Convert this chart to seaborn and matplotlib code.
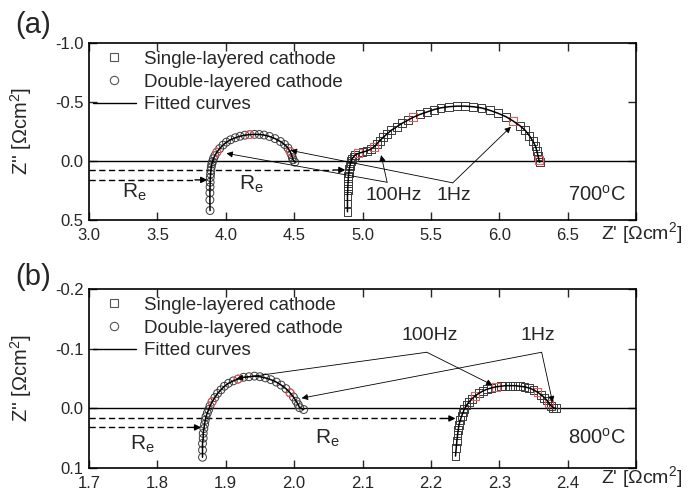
import matplotlib
matplotlib.use("Agg")
import matplotlib.pyplot as plt
from matplotlib.lines import Line2D
import seaborn as sns

# ---------------- 700 °C impedance spectra ----------------
a_single_x = [4.890, 4.890, 4.890, 4.892, 4.893, 4.895, 4.897, 4.900, 4.903, 4.907,
              4.912, 4.918, 4.925, 4.935, 4.945, 4.970, 5.000, 5.030, 5.060, 5.085,
              5.105, 5.125, 5.150, 5.180, 5.210, 5.250, 5.290, 5.330, 5.370, 5.420,
              5.470, 5.520, 5.570, 5.630, 5.690, 5.750, 5.810, 5.870, 5.930, 5.990,
              6.050, 6.100, 6.150, 6.190, 6.220, 6.245, 6.265, 6.275, 6.283, 6.290, 6.295]
a_single_y = [0.43, 0.36, 0.30, 0.25, 0.21, 0.17, 0.13, 0.10, 0.07, 0.045,
              0.02, 0.0, -0.02, -0.035, -0.05, -0.065, -0.075, -0.085, -0.10, -0.12,
              -0.145, -0.17, -0.20, -0.23, -0.26, -0.29, -0.32, -0.345, -0.37, -0.395,
              -0.415, -0.435, -0.45, -0.46, -0.465, -0.465, -0.46, -0.45, -0.43, -0.405,
              -0.375, -0.34, -0.30, -0.26, -0.215, -0.17, -0.125, -0.085, -0.045, -0.01, 0.01]
a_single_red = [15, 19, 28, 41, 49]

a_double_x = [3.885, 3.884, 3.884, 3.885, 3.886, 3.887, 3.889, 3.891, 3.894, 3.898,
              3.903, 3.910, 3.920, 3.935, 3.955, 3.980, 4.005, 4.035, 4.070, 4.105,
              4.140, 4.175, 4.210, 4.245, 4.280, 4.320, 4.360, 4.400, 4.430, 4.455,
              4.470, 4.480, 4.487, 4.492, 4.505]
a_double_y = [0.42, 0.33, 0.27, 0.22, 0.18, 0.14, 0.11, 0.08, 0.05, 0.025,
              0.005, -0.02, -0.045, -0.075, -0.105, -0.135, -0.16, -0.18, -0.197, -0.21,
              -0.219, -0.224, -0.226, -0.225, -0.22, -0.208, -0.19, -0.165, -0.14, -0.11,
              -0.08, -0.055, -0.03, -0.01, 0.01]
a_double_red = [13, 21, 30]

# ---------------- 800 °C impedance spectra ----------------
b_single_x = [2.236, 2.237, 2.238, 2.239, 2.240, 2.241, 2.243, 2.245, 2.247, 2.249,
              2.252, 2.256, 2.260, 2.265, 2.270, 2.276, 2.282, 2.288, 2.295, 2.302,
              2.309, 2.316, 2.323, 2.330, 2.337, 2.344, 2.350, 2.356, 2.361, 2.366,
              2.370, 2.373, 2.376, 2.379, 2.383]
b_single_y = [0.080, 0.067, 0.055, 0.045, 0.036, 0.028, 0.020, 0.013, 0.007, 0.001,
              -0.005, -0.011, -0.016, -0.021, -0.025, -0.029, -0.032, -0.034, -0.036, -0.037,
              -0.038, -0.038, -0.038, -0.037, -0.036, -0.034, -0.031, -0.027, -0.023, -0.018,
              -0.013, -0.008, -0.004, -0.001, 0.000]
b_single_red = [13, 18, 27, 31]

b_double_x = [1.866, 1.866, 1.866, 1.867, 1.867, 1.868, 1.869, 1.870, 1.871, 1.873,
              1.875, 1.877, 1.880, 1.884, 1.888, 1.893, 1.898, 1.904, 1.911, 1.918,
              1.926, 1.934, 1.942, 1.950, 1.958, 1.966, 1.974, 1.981, 1.988, 1.994,
              1.999, 2.003, 2.006, 2.008, 2.014]
b_double_y = [0.082, 0.070, 0.059, 0.050, 0.042, 0.034, 0.027, 0.020, 0.014, 0.008,
              0.002, -0.004, -0.011, -0.018, -0.025, -0.031, -0.037, -0.042, -0.046, -0.049,
              -0.052, -0.053, -0.054, -0.053, -0.051, -0.048, -0.044, -0.039, -0.033, -0.026,
              -0.019, -0.012, -0.006, -0.001, 0.002]
b_double_red = [12, 19, 29]

a_xticks = [3.0, 3.5, 4.0, 4.5, 5.0, 5.5, 6.0, 6.5, 7.0]
a_yticks = [-1.0, -0.5, 0.0, 0.5]
b_xticks = [1.7, 1.8, 1.9, 2.0, 2.1, 2.2, 2.3, 2.4, 2.5]
b_yticks = [-0.2, -0.1, 0.0, 0.1]

legend_labels = ["Single-layered cathode", "Double-layered cathode", "Fitted curves"]

# ---------------- styling ----------------
sns.set_style("ticks")
plt.rcParams.update({
    "font.family": ["Liberation Sans", "DejaVu Sans"],
    "mathtext.fontset": "custom",
    "mathtext.rm": "Liberation Sans",
    "mathtext.it": "Liberation Sans:italic",
    "axes.unicode_minus": False,
    "axes.linewidth": 1.2,
    "axes.edgecolor": "black",
})

TXT = 14
MARK_EDGE = "#3a3a3a"
RED_EDGE = "#f05a5a"
ARROW = dict(arrowstyle="-|>", color="black", lw=0.6, mutation_scale=9,
             shrinkA=0, shrinkB=0)
RE_ARROW = dict(arrowstyle="-|>", color="black", lw=1.0, mutation_scale=9,
                shrinkA=0, shrinkB=0)


def draw_series(ax, xs, ys, red, marker, size):
    sns.lineplot(x=xs, y=ys, sort=False, estimator=None, color="black",
                 lw=1.1, ax=ax, zorder=4)
    sns.scatterplot(x=xs, y=ys, marker=marker, s=size, color=MARK_EDGE,
                    facecolor="none", edgecolor=MARK_EDGE, linewidth=0.7,
                    ax=ax, zorder=3)
    sns.scatterplot(x=[xs[i] for i in red], y=[ys[i] for i in red],
                    marker=marker, s=size, color=RED_EDGE, facecolor="none",
                    edgecolor=RED_EDGE, linewidth=0.8, ax=ax, zorder=3.5)


def re_line(ax, x0, x_end, y, head):
    ax.plot([x0, x_end - head], [y, y], color="black", lw=1.0,
            ls=(0, (4.5, 2.5)), zorder=2)
    ax.annotate("", xy=(x_end, y), xytext=(x_end - head, y), arrowprops=RE_ARROW,
                zorder=5)


def freq_label(ax, text, text_xy, apex, targets):
    ax.text(text_xy[0], text_xy[1], text, ha="center", va="center", fontsize=TXT)
    for t in targets:
        ax.annotate("", xy=t, xytext=apex, arrowprops=ARROW, zorder=5)


def setup_axes(ax, xticks, yticks, ylim, xlabel_y):
    ax.set_xlim(xticks[0], xticks[-1])
    ax.set_ylim(ylim[1], ylim[0])
    ax.set_xticks(xticks)
    ax.set_xticklabels([f"{v:.1f}" for v in xticks[:-1]] + [""])
    ax.set_yticks(yticks)
    ax.set_yticklabels([f"{v:.1f}" for v in yticks])
    ax.tick_params(direction="in", top=True, right=True, length=6, width=1.0,
                   labelsize=12)
    ax.tick_params(axis="x", pad=6)
    ax.tick_params(axis="y", pad=4)
    ax.axhline(0, color="black", lw=1.0, zorder=1)
    ax.set_xlabel("")
    ax.set_ylabel("Z'' [Ωcm$^2$]", fontsize=14.5)
    ax.yaxis.set_label_coords(-0.1, 0.5)
    ax.text(1.01, xlabel_y, "Z' [Ωcm$^2$]", transform=ax.transAxes,
            ha="center", va="center", fontsize=TXT)
    handles = [
        Line2D([], [], marker="s", ls="none", mfc="none", mec="#555555", ms=5.5,
               mew=0.8),
        Line2D([], [], marker="o", ls="none", mfc="none", mec="#555555", ms=6,
               mew=0.8),
        Line2D([], [], color="black", lw=1.0),
    ]
    ax.legend(handles, legend_labels, loc="upper left", bbox_to_anchor=(0.0, 0.978),
              frameon=False, fontsize=13.5, handlelength=2.3, handletextpad=0.45,
              labelspacing=0.3, borderpad=0.2, borderaxespad=0.0)


fig = plt.figure(figsize=(6.97, 4.92), dpi=100)
ax_a = fig.add_axes([0.1277, 0.5528, 0.7848, 0.3598])
ax_b = fig.add_axes([0.1277, 0.0488, 0.7848, 0.3638])

# ---- panel (a): 700 °C ----
draw_series(ax_a, a_single_x, a_single_y, a_single_red, "s", 32)
draw_series(ax_a, a_double_x, a_double_y, a_double_red, "o", 32)
setup_axes(ax_a, a_xticks, a_yticks, (-1.0, 0.5), -0.072)
re_line(ax_a, 3.0, 4.875, 0.076, 0.09)
re_line(ax_a, 3.0, 3.865, 0.16, 0.09)
ax_a.text(3.24, 0.31, "R$_\\mathrm{e}$", fontsize=15, ha="left", va="baseline")
ax_a.text(4.10, 0.245, "R$_\\mathrm{e}$", fontsize=15, ha="left", va="baseline")
freq_label(ax_a, "100Hz", (5.23, 0.29), (5.18, 0.18),
           [(4.005, -0.065), (5.136, -0.05)])
freq_label(ax_a, "1Hz", (5.67, 0.29), (5.66, 0.185),
           [(4.475, -0.09), (6.085, -0.29)])
ax_a.text(0.929, 0.141, "700$^{\\mathrm{o}}$C", transform=ax_a.transAxes,
          ha="center", va="center", fontsize=14.5)

# ---- panel (b): 800 °C ----
draw_series(ax_b, b_single_x, b_single_y, b_single_red, "s", 32)
draw_series(ax_b, b_double_x, b_double_y, b_double_red, "o", 32)
setup_axes(ax_b, b_xticks, b_yticks, (-0.2, 0.1), -0.05)
re_line(ax_b, 1.7, 2.236, 0.017, 0.02)
re_line(ax_b, 1.7, 1.864, 0.032, 0.02)
ax_b.text(1.76, 0.07, "R$_\\mathrm{e}$", fontsize=15, ha="left", va="baseline")
ax_b.text(2.03, 0.059, "R$_\\mathrm{e}$", fontsize=15, ha="left", va="baseline")
freq_label(ax_b, "100Hz", (2.199, -0.122), (2.194, -0.094),
           [(1.916, -0.05), (2.29, -0.039)])
freq_label(ax_b, "1Hz", (2.356, -0.122), (2.362, -0.094),
           [(2.011, -0.017), (2.378, -0.01)])
ax_b.text(0.929, 0.168, "800$^{\\mathrm{o}}$C", transform=ax_b.transAxes,
          ha="center", va="center", fontsize=14.5)

fig.text(0.022, 0.949, "(a)", fontsize=21, ha="left", va="center")
fig.text(0.022, 0.437, "(b)", fontsize=21, ha="left", va="center")

fig.savefig("out.png", dpi=100)
